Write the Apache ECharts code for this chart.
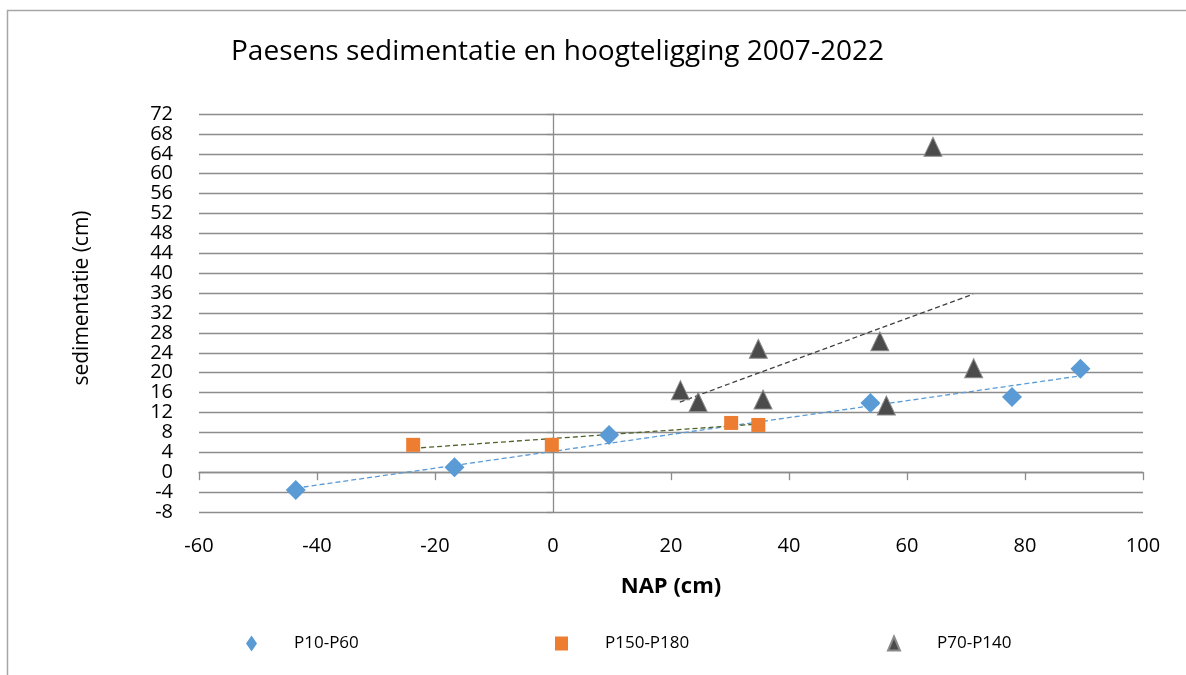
<!DOCTYPE html>
<html>
<head>
<meta charset="utf-8">
<title>Paesens sedimentatie</title>
<script src="https://cdn.jsdelivr.net/npm/echarts@6/dist/echarts.min.js"></script>
<style>
    html, body { margin: 0; padding: 0; background: #fff; }
    #chart { width: 1186px; height: 675px; }
</style>
</head>
<body>
<div id="chart"></div>
<script>
// meetpunten [NAP, sedimentatie]
var p10p60 = [[-43.6, -3.6], [-16.7, 1.0], [9.5, 7.5], [53.8, 13.9], [77.8, 15.1], [89.4, 20.8]];
var p150p180 = [[-23.7, 5.5], [-0.2, 5.5], [30.2, 9.9], [34.8, 9.5]];
var p70p140 = [[21.6, 16.5], [24.6, 14.1], [34.8, 24.8], [35.6, 14.6], [55.4, 26.3], [56.5, 13.4], [64.4, 65.4], [71.3, 20.9]];

var trendP10 = [[-43.6, -3.2], [89.6, 19.4]];
var trendP150 = [[-23.7, 4.8], [35.0, 9.7]];
var trendP70 = [[21.5, 14.1], [71.2, 35.8]];

var seriesNames = ["P10-P60", "P150-P180", "P70-P140"];

(function () {
    var myChart = echarts.init(document.getElementById("chart"));
    var font = "'Open Sans', sans-serif";
    var gridColor = "#8c8c8c";

    function trend(data, color) {
        return {
            type: "line",
            data: data,
            xAxisIndex: 0,
            yAxisIndex: 0,
            symbol: "none",
            silent: true,
            z: 3,
            lineStyle: { color: color, width: 1.3, type: [5, 3] }
        };
    }

    function legendItem(name, icon, left, w, h) {
        return {
            data: [{ name: name, icon: icon }],
            left: left,
            top: 630,
            itemWidth: w,
            itemHeight: h,
            textStyle: { fontFamily: font, fontSize: 17, color: "#000", padding: [0, 0, 0, 32] }
        };
    }

    var option = {
        backgroundColor: "#fff",
        animation: false,
        title: {
            text: "Paesens sedimentatie en hoogteligging 2007-2022",
            left: 226,
            top: 33,
            textStyle: { fontFamily: font, fontSize: 28, fontWeight: "normal", color: "#000" }
        },
        legend: [
            legendItem(seriesNames[0], "diamond", 241, 11, 16),
            legendItem(seriesNames[1], "rect", 550, 13, 14),
            legendItem(seriesNames[2], "triangle", 882, 12, 14)
        ],
        grid: { left: 199, right: 43, top: 114, bottom: 163 },
        xAxis: [{
            type: "value",
            position: "bottom",
            min: -60,
            max: 100,
            interval: 20,
            name: "NAP (cm)",
            nameLocation: "middle",
            nameGap: 64,
            nameTextStyle: { fontFamily: font, fontSize: 22, fontWeight: "bold", color: "#000" },
            axisLine: { show: false, onZero: false },
            axisTick: { show: false },
            splitLine: { show: false },
            axisLabel: { margin: 24, fontFamily: font, fontSize: 20, color: "#000" }
        }, {
            type: "value",
            position: "bottom",
            min: -60,
            max: 100,
            interval: 20,
            axisLine: { show: true, onZero: true, lineStyle: { color: gridColor, width: 1.3 } },
            axisTick: { show: true, length: 8, lineStyle: { color: gridColor, width: 1.3 } },
            axisLabel: { show: false },
            splitLine: { show: false }
        }],
        yAxis: [{
            type: "value",
            position: "left",
            min: -8,
            max: 72,
            interval: 4,
            name: "sedimentatie (cm)",
            nameLocation: "middle",
            nameGap: 106,
            nameTextStyle: { fontFamily: font, fontSize: 21, color: "#000", padding: [0, 0, 0, 30] },
            axisLine: { show: false, onZero: false },
            axisTick: { show: false },
            axisLabel: { margin: 26, fontFamily: font, fontSize: 20, color: "#000", lineHeight: 20 },
            splitLine: { show: true, lineStyle: { color: gridColor, width: 1.3 } }
        }, {
            type: "value",
            position: "left",
            min: -8,
            max: 72,
            interval: 4,
            axisLine: { show: true, onZero: true, lineStyle: { color: gridColor, width: 1.3 } },
            axisTick: { show: true, inside: false, length: 6, lineStyle: { color: gridColor, width: 1.3 } },
            axisLabel: { show: false },
            splitLine: { show: false }
        }],
        graphic: [{
            type: "rect",
            shape: { x: 7.5, y: 10.5, width: 1300, height: 800 },
            style: { fill: "none", stroke: "#a6a6a6", lineWidth: 1.5 },
            silent: true
        }],
        series: [
            trend(trendP10, "#5b9bd5"),
            trend(trendP150, "#4f6228"),
            trend(trendP70, "#404040"),
            {
                name: seriesNames[0],
                type: "scatter",
                data: p10p60,
                symbol: "diamond",
                symbolSize: [20, 20],
                z: 4,
                itemStyle: { color: "#5b9bd5", opacity: 1 }
            },
            {
                name: seriesNames[1],
                type: "scatter",
                data: p150p180,
                symbol: "rect",
                symbolSize: [14, 14],
                z: 4,
                itemStyle: { color: "#ed7d31", opacity: 1 }
            },
            {
                name: seriesNames[2],
                type: "scatter",
                data: p70p140,
                symbol: "triangle",
                symbolSize: [18, 19],
                z: 4,
                itemStyle: { color: "#4b4b4b", borderColor: "#8a8a8a", borderWidth: 1, opacity: 1 }
            }
        ]
    };

    myChart.setOption(option);
    window.addEventListener("resize", function () {
        myChart.resize();
    });
})();
</script>
</body>
</html>
